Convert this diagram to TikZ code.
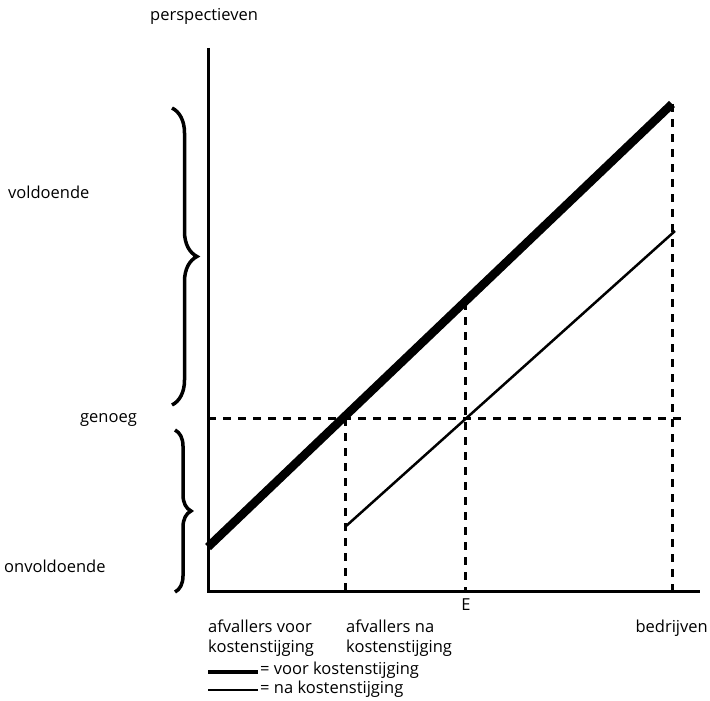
\documentclass[tikz,border=0pt]{standalone}
\usepackage{fontspec}
\setmainfont{Open Sans}
\usetikzlibrary{decorations.pathreplacing}
\begin{document}
\begin{tikzpicture}[x=1pt,y=-1pt,
  lbl/.style={inner sep=0pt,font=\fontsize{16.5}{20}\selectfont,anchor=west,align=left},
  axis/.style={line width=3pt},
  guide/.style={line width=3pt,dash pattern=on 8pt off 7pt},
  thickline/.style={line width=8.5pt},
  thinline/.style={line width=2.5pt},
  bracestyle/.style={line width=3.5pt,decorate,decoration={brace,amplitude=#1}}]
\useasboundingbox (0,0) rectangle (710,701);
% coordinates
\coordinate (top) at (208,48);
\coordinate (origin) at (208,591);
\coordinate (xend) at (700,591);
\coordinate (t0) at (208,547);
\coordinate (t1) at (672,104);
\coordinate (n0) at (345,527);
\coordinate (n1) at (675,231);
\coordinate (g0) at (208,418);
\coordinate (g1) at (683,418);
\coordinate (a1) at (345,418);
\coordinate (a1b) at (345,591);
\coordinate (e1) at (465,302);
\coordinate (e1b) at (465,591);
\coordinate (b1b) at (672,591);
% axes
\draw[axis] (top) -- (origin) -- (xend);
% guides
\draw[guide] (g0) -- (g1);
\draw[guide] (a1) -- (a1b);
\draw[guide] (e1) -- (e1b);
\draw[guide] (t1) -- (b1b);
% lines
\draw[thickline] (t0) -- (t1);
\draw[thinline] (n0) -- (n1);
% braces
\coordinate (ub0) at (172,108);
\coordinate (ub1) at (172,405);
\coordinate (lb0) at (175,430);
\coordinate (lb1) at (175,592);
\draw[bracestyle=25pt] (ub0) -- (ub1);
\draw[bracestyle=16pt] (lb0) -- (lb1);
% labels
\node[lbl] (persp) at (150,16) {perspectieven};
\node[lbl] (vold) at (8,192) {voldoende};
\node[lbl] (gen) at (80,420) {genoeg};
\node[lbl] (onv) at (4,566) {onvoldoende};
\node[lbl,anchor=center] (E) at (466,605) {E};
\node[lbl] (avoor) at (208,638) {afvallers voor\\kostenstijging};
\node[lbl] (ana) at (346,638) {afvallers na\\kostenstijging};
\node[lbl,anchor=east] (bedr) at (708,628) {bedrijven};
% legend
\coordinate (l1a) at (208,672);
\coordinate (l1b) at (258,672);
\coordinate (l2a) at (208,690);
\coordinate (l2b) at (258,690);
\draw[line width=4.5pt] (l1a) -- (l1b);
\draw[line width=2pt] (l2a) -- (l2b);
\node[lbl] (leg1) at (260,670) {= voor kostenstijging};
\node[lbl] (leg2) at (260,689) {= na kostenstijging};
\end{tikzpicture}
\end{document}
